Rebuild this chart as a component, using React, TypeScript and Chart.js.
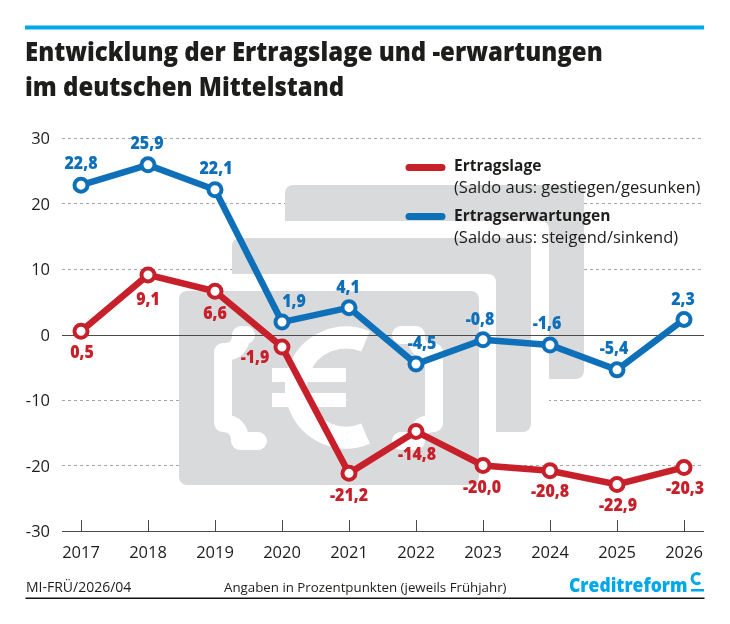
import { useEffect, useRef } from "react";
import { Chart, registerables } from "chart.js";

Chart.register(...registerables);

const years = [2017, 2018, 2019, 2020, 2021, 2022, 2023, 2024, 2025, 2026];
const ertragslage = [0.5, 9.1, 6.6, -1.9, -21.2, -14.8, -20.0, -20.8, -22.9, -20.3];
const erwartungen = [22.8, 25.9, 22.1, 1.9, 4.1, -4.5, -0.8, -1.6, -5.4, 2.3];
const yTicks = [30, 20, 10, 0, -10, -20, -30];

const titleLines = ["Entwicklung der Ertragslage und -erwartungen", "im deutschen Mittelstand"];
const RED = "#c8202a";
const BLUE = "#0f70ba";
const CYAN = "#00a7ea";
const GRAY = "#d9dadc";
const TEXT = "#1d1d1b";
const FONT = '"Open Sans", sans-serif';

// label offsets from the point, in px
const redOffsets = [[1, 21], [0, 24], [0, 22], [-27, 10], [0, 22], [1, 23], [-1, 21], [0, 20], [1, 21], [1, 21]];
const blueOffsets = [[0, -22], [-1, -22], [1, -22], [12, -21], [-1, -21], [6, -21], [-3, -21], [-3, -22], [-3, -22], [-1, -20]];

const fmt = (v: number) => v.toFixed(1).replace(".", ",");

// scaleX squeezes the glyphs, the heavy condensed face of the original isn't installed
function text(ctx: CanvasRenderingContext2D, s: string, x: number, y: number, font: string, color: string, align: CanvasTextAlign = "left", scaleX = 1) {
  ctx.save();
  ctx.font = font;
  ctx.fillStyle = color;
  ctx.textAlign = align;
  ctx.textBaseline = "alphabetic";
  ctx.translate(x, y);
  ctx.scale(scaleX, 1);
  ctx.fillText(s, 0, 0);
  ctx.restore();
}

function box(ctx: CanvasRenderingContext2D, x0: number, y0: number, x1: number, y1: number, color: string, r: any = 8) {
  ctx.fillStyle = color;
  ctx.beginPath();
  ctx.roundRect(x0, y0, x1 - x0, y1 - y0, r);
  ctx.fill();
}

// the grey money icon behind the lines, plus the zero line on top of it
const backdrop = {
  id: "backdrop",
  beforeDatasetsDraw(chart: Chart) {
    const ctx = chart.ctx;
    ctx.save();
    box(ctx, 285, 185, 584, 379, GRAY);
    box(ctx, 232, 221, 549, 379, "#ffffff", [8, 8, 0, 0]);
    box(ctx, 232, 379, 549, 432, "#ffffff", 0);
    box(ctx, 232, 238, 531, 432, GRAY);
    box(ctx, 179, 274, 496, 432, "#ffffff", [8, 8, 0, 0]);
    box(ctx, 179, 291, 479, 485, GRAY);

    ctx.strokeStyle = "#ffffff";
    ctx.lineCap = "round";
    ctx.lineJoin = "round";
    ctx.lineWidth = 18;
    ctx.beginPath();
    ctx.moveTo(246, 335);
    ctx.lineTo(241, 335);
    ctx.quadraticCurveTo(241, 352, 223, 352);
    ctx.lineTo(223, 423);
    ctx.quadraticCurveTo(240, 424, 240, 441);
    ctx.lineTo(258, 441);
    ctx.stroke();
    ctx.beginPath();
    ctx.moveTo(401, 335);
    ctx.lineTo(416, 335);
    ctx.quadraticCurveTo(416, 352, 434, 352);
    ctx.lineTo(434, 423);
    ctx.quadraticCurveTo(416, 424, 416, 441);
    ctx.lineTo(401, 441);
    ctx.stroke();

    ctx.lineCap = "butt";
    ctx.lineWidth = 22;
    ctx.beginPath();
    ctx.ellipse(346, 387.5, 50, 50, 0, (-67 * Math.PI) / 180, (67 * Math.PI) / 180, true);
    ctx.stroke();
    ctx.fillStyle = "#ffffff";
    ctx.fillRect(272, 368, 74, 14);
    ctx.fillRect(272, 393, 74, 14);

    const { left, right } = chart.chartArea;
    const y0 = chart.scales.y.getPixelForValue(0);
    ctx.strokeStyle = "#4a4a4a";
    ctx.lineWidth = 1;
    ctx.beginPath();
    ctx.moveTo(left, Math.round(y0) + 0.5);
    ctx.lineTo(right, Math.round(y0) + 0.5);
    ctx.stroke();
    ctx.restore();
  },
};

// title, legend, footer, tick marks and value labels
const furniture = {
  id: "furniture",
  afterDraw(chart: Chart) {
    const ctx = chart.ctx;
    const { left, right, bottom } = chart.chartArea;
    ctx.save();

    ctx.fillStyle = CYAN;
    ctx.fillRect(25, 25.5, 679, 4);
    const titleFont = `800 26px ${FONT}`;
    text(ctx, titleLines[0], 25, 61, titleFont, TEXT, "left", 0.922);
    text(ctx, titleLines[1], 25, 95.5, titleFont, TEXT, "left", 0.922);

    // axis baseline and upward ticks
    ctx.strokeStyle = "#4a4a4a";
    ctx.lineWidth = 1;
    ctx.beginPath();
    ctx.moveTo(left, bottom + 0.5);
    ctx.lineTo(right, bottom + 0.5);
    years.forEach((yr) => {
      const x = Math.round(chart.scales.x.getPixelForValue(yr)) + 0.5;
      ctx.moveTo(x, bottom - 11);
      ctx.lineTo(x, bottom);
    });
    ctx.stroke();

    // legend
    ctx.lineCap = "round";
    ctx.lineWidth = 7;
    [[167.5, RED], [216.5, BLUE]].forEach(([y, c]) => {
      ctx.strokeStyle = c as string;
      ctx.beginPath();
      ctx.moveTo(409, y as number);
      ctx.lineTo(442, y as number);
      ctx.stroke();
    });
    const bold = `700 16.5px ${FONT}`;
    const reg = `400 16.5px ${FONT}`;
    text(ctx, "Ertragslage", 454, 171, bold, TEXT, "left", 0.94);
    text(ctx, "(Saldo aus: gestiegen/gesunken)", 454, 193, reg, TEXT);
    text(ctx, "Ertragserwartungen", 454, 221, bold, TEXT, "left", 0.94);
    text(ctx, "(Saldo aus: steigend/sinkend)", 454, 243, reg, TEXT);

    // value labels
    const labelFont = `800 17px ${FONT}`;
    [
      { idx: 0, vals: ertragslage, off: redOffsets, color: RED },
      { idx: 1, vals: erwartungen, off: blueOffsets, color: BLUE },
    ].forEach(({ idx, vals, off, color }) => {
      const pts = chart.getDatasetMeta(idx).data;
      vals.forEach((v, i) => {
        const p = pts[i];
        text(ctx, fmt(v), p.x + off[i][0], p.y + off[i][1] + 6, labelFont, color, "center", 0.94);
      });
    });

    // footer
    text(ctx, "MI-FRÜ/2026/04", 26, 592, `400 14px ${FONT}`, TEXT);
    text(ctx, "Angaben in Prozentpunkten (jeweils Frühjahr)", 224, 592, `400 13.3px ${FONT}`, TEXT);
    text(ctx, "Creditreform", 569, 592, `800 20px ${FONT}`, CYAN, "left", 0.875);
    ctx.strokeStyle = CYAN;
    ctx.lineCap = "butt";
    ctx.lineWidth = 3;
    ctx.beginPath();
    ctx.arc(697, 578.5, 5, (-50 * Math.PI) / 180, (50 * Math.PI) / 180, true);
    ctx.stroke();
    ctx.fillStyle = CYAN;
    ctx.fillRect(691, 589, 13, 2.5);
    ctx.fillStyle = "#111111";
    ctx.fillRect(25.5, 597.5, 679, 1.5);
    ctx.restore();
  },
};

export default function App() {
  const chartRef = useRef<HTMLCanvasElement>(null);

  useEffect(() => {
    if (!chartRef.current) return;
    const chart = new Chart(chartRef.current, {
      type: "line",
      data: {
        datasets: [
          {
            label: "Ertragslage",
            data: years.map((yr, i) => ({ x: yr, y: ertragslage[i] })),
            borderColor: RED,
            pointBorderColor: RED,
          },
          {
            label: "Ertragserwartungen",
            data: years.map((yr, i) => ({ x: yr, y: erwartungen[i] })),
            borderColor: BLUE,
            pointBorderColor: BLUE,
          },
        ].map((d) => ({
          ...d,
          borderWidth: 6.5,
          tension: 0,
          pointRadius: 6.5,
          pointBorderWidth: 4,
          pointBackgroundColor: "#ffffff",
        })),
      },
      options: {
        responsive: false,
        animation: false,
        devicePixelRatio: 1,
        layout: { padding: { top: 138, right: 26, bottom: 0, left: 0 } },
        plugins: { legend: { display: false }, tooltip: { enabled: false } },
        scales: {
          x: {
            type: "linear",
            min: 2017 - 19 / 67,
            max: 2026 + 20 / 67,
            afterFit: (s: any) => {
              s.height = 93;
            },
            afterBuildTicks: (s: any) => {
              s.ticks = years.map((value) => ({ value }));
            },
            border: { display: false },
            grid: { display: false },
            ticks: {
              autoSkip: false,
              maxRotation: 0,
              padding: 4,
              color: TEXT,
              font: { family: "Open Sans", size: 16.5 },
              callback: (v: any) => String(v),
            },
          },
          y: {
            min: -30,
            max: 30,
            afterFit: (s: any) => {
              s.width = 62;
            },
            afterBuildTicks: (s: any) => {
              s.ticks = yTicks.map((value) => ({ value }));
            },
            border: { display: false, dash: [3, 3] },
            grid: {
              drawTicks: false,
              color: (c: any) => (c.tick.value === 0 || c.tick.value === -30 ? "transparent" : "#a6a6a6"),
            },
            ticks: {
              padding: 12,
              labelOffset: 1.5,
              color: TEXT,
              font: { family: "Open Sans", size: 16.5 },
              callback: (v: any) => String(v),
            },
          },
        },
      },
      plugins: [backdrop, furniture],
    } as any);

    return () => {
      chart.destroy();
    };
  }, []);

  return (
    <div style={{ position: "absolute", left: 0, top: 0, width: 730, height: 624, background: "#ffffff" }}>
      <canvas ref={chartRef} width={730} height={624} style={{ display: "block" }} />
    </div>
  );
}
